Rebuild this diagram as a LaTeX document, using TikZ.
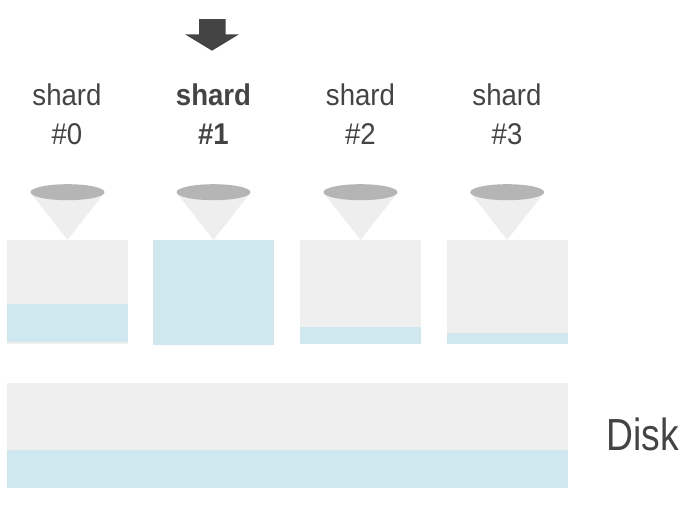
\documentclass[tikz,border=0pt]{standalone}
\usepackage{fontspec}
\setmainfont{Liberation Sans}[FakeStretch=0.92]
\definecolor{txt}{HTML}{444444}
\definecolor{boxgray}{HTML}{EFEFEF}
\definecolor{boxblue}{HTML}{CFE7EE}
\definecolor{conegray}{HTML}{EEEEEE}
\definecolor{lidgray}{HTML}{B5B5B5}
\begin{document}
\begin{tikzpicture}[x=1pt,y=-1pt,
  lbl/.style={anchor=base,inner sep=0pt,text=txt,font=\fontsize{30}{36}\selectfont},
  disklbl/.style={anchor=base west,inner sep=0pt,text=txt,font=\fontsize{45}{54}\selectfont},
  graybox/.style={fill=boxgray},
  bluebox/.style={fill=boxblue},
  cone/.style={fill=conegray},
  lid/.style={fill=lidgray}]
\useasboundingbox (0,0) rectangle (691,530);
\fill[white] (0,0) rectangle (691,530);
% pointer arrow
\fill[txt] (199,19) -- (225.7,19) -- (225.7,34.3) -- (239,34.3) -- (212,50.7) -- (185,34.3) -- (199,34.3) -- cycle;
% labels
\node[lbl] (s0) at (67,105) {shard};
\node[lbl] (n0) at (67,144.5) {\#0};
\node[lbl,font=\fontsize{30}{36}\selectfont\bfseries] (s1) at (213.5,105) {shard};
\node[lbl,font=\fontsize{30}{36}\selectfont\bfseries] (n1) at (213.5,144.5) {\#1};
\node[lbl] (s2) at (360.5,105) {shard};
\node[lbl] (n2) at (360.5,144.5) {\#2};
\node[lbl] (s3) at (507,105) {shard};
\node[lbl] (n3) at (507,144.5) {\#3};
% cones
\foreach \cx in {67.5,213.5,360.5,507.2}{
  \fill[cone] (\cx-36.5,193.35) -- (\cx,239.8) -- (\cx+36.5,193.35) -- cycle;
  \fill[lid] (\cx,192.2) ellipse [x radius=37, y radius=8];
}
% shard boxes
\fill[graybox] (7,240) rectangle (128,344.3);
\fill[bluebox] (7,303.5) rectangle (128,341.7);
\fill[bluebox] (153,240) rectangle (274,344.7);
\fill[graybox] (300,240) rectangle (421,344.3);
\fill[bluebox] (300,326.7) rectangle (421,344.3);
\fill[graybox] (447,240) rectangle (568,344.3);
\fill[bluebox] (447,332.7) rectangle (568,344.3);
% disk
\fill[graybox] (7,382.7) rectangle (568,487.7);
\fill[bluebox] (7,450) rectangle (568,487.7);
\node[disklbl] (disk) at (606,450) {\scalebox{0.9}[1]{Disk}};
\end{tikzpicture}
\end{document}
